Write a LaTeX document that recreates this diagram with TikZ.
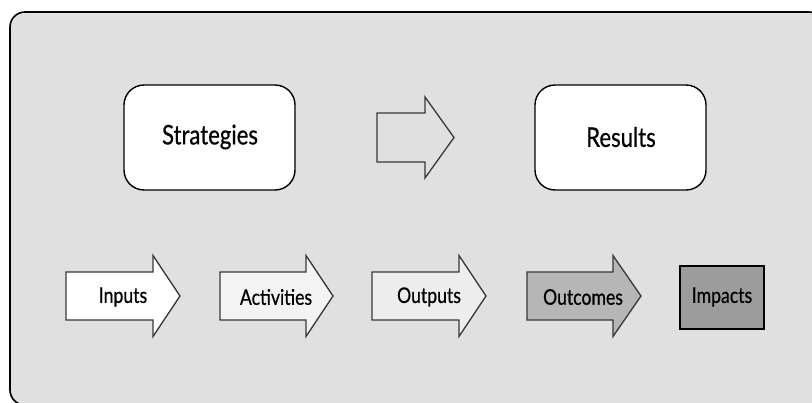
\documentclass[tikz,border=0pt]{standalone}
\usepackage{fontspec}
\setmainfont[FakeStretch=0.82,FakeBold=0.6]{Lato}
\definecolor{panel}{HTML}{E0E0E0}
\definecolor{arrowline}{HTML}{383838}
\definecolor{fillA}{HTML}{FFFFFF}
\definecolor{fillB}{HTML}{F3F3F3}
\definecolor{fillC}{HTML}{EDEDED}
\definecolor{fillD}{HTML}{B6B6B6}
\definecolor{fillE}{HTML}{9C9C9C}
\tikzset{
  panelbox/.style={draw=black, line width=1.6pt, fill=panel, rounded corners=15pt},
  phasebox/.style={draw=black, line width=1.4pt, fill=white, rounded corners=20pt},
  blockarrow/.style={draw=arrowline, line width=1.3pt, line join=miter},
  label/.style={font=\fontsize{21.5}{21.5}\selectfont, text=black, inner sep=0pt},
  biglabel/.style={font=\fontsize{27}{27}\selectfont, text=black, inner sep=0pt},
  impactbox/.style={draw=black, line width=1.6pt, fill=fillE},
}
% block arrow: #1 left x, #2 centre y, #3 shaft length,
% #4 shaft half height, #5 head half height, #6 head length, #7 fill
\newcommand{\blockarr}[7]{%
  \filldraw[blockarrow, fill=#7]
    (#1,#2-#4) -- (#1+#3,#2-#4) -- (#1+#3,#2-#5) -- (#1+#3+#6,#2)
    -- (#1+#3,#2+#5) -- (#1+#3,#2+#4) -- (#1,#2+#4) -- cycle;}
\begin{document}
\begin{tikzpicture}[x=1pt,y=-1pt]
\useasboundingbox (0,0) rectangle (812,402);
\fill[white] (0,0) rectangle (812,402);
\draw[panelbox] (10,12) rectangle (824,405);

% upper row
\draw[phasebox] (124,85) rectangle (295,190);
\node[biglabel] (strat) at (210,137) {Strategies};
\blockarr{377}{137.5}{48}{24.5}{40.5}{29}{panel}
\draw[phasebox] (535,85) rectangle (706,190);
\node[biglabel] (res) at (621,137) {Results};

% lower row
\blockarr{66}{296}{87}{24}{40.5}{27}{fillA}
\node[label] (inp) at (123,297) {Inputs};
\blockarr{220}{296}{86}{24}{40.5}{27}{fillB}
\node[label] (act) at (276,297) {Activities};
\blockarr{372}{296}{87}{24}{40.5}{27}{fillC}
\node[label] (outp) at (429,297) {Outputs};
\blockarr{527}{296}{86}{24}{40.5}{28}{fillD}
\node[label] (outc) at (583,297) {Outcomes};
\draw[impactbox] (680,266) rectangle (764,329);
\node[label] (imp) at (722,297) {Impacts};
\end{tikzpicture}
\end{document}
